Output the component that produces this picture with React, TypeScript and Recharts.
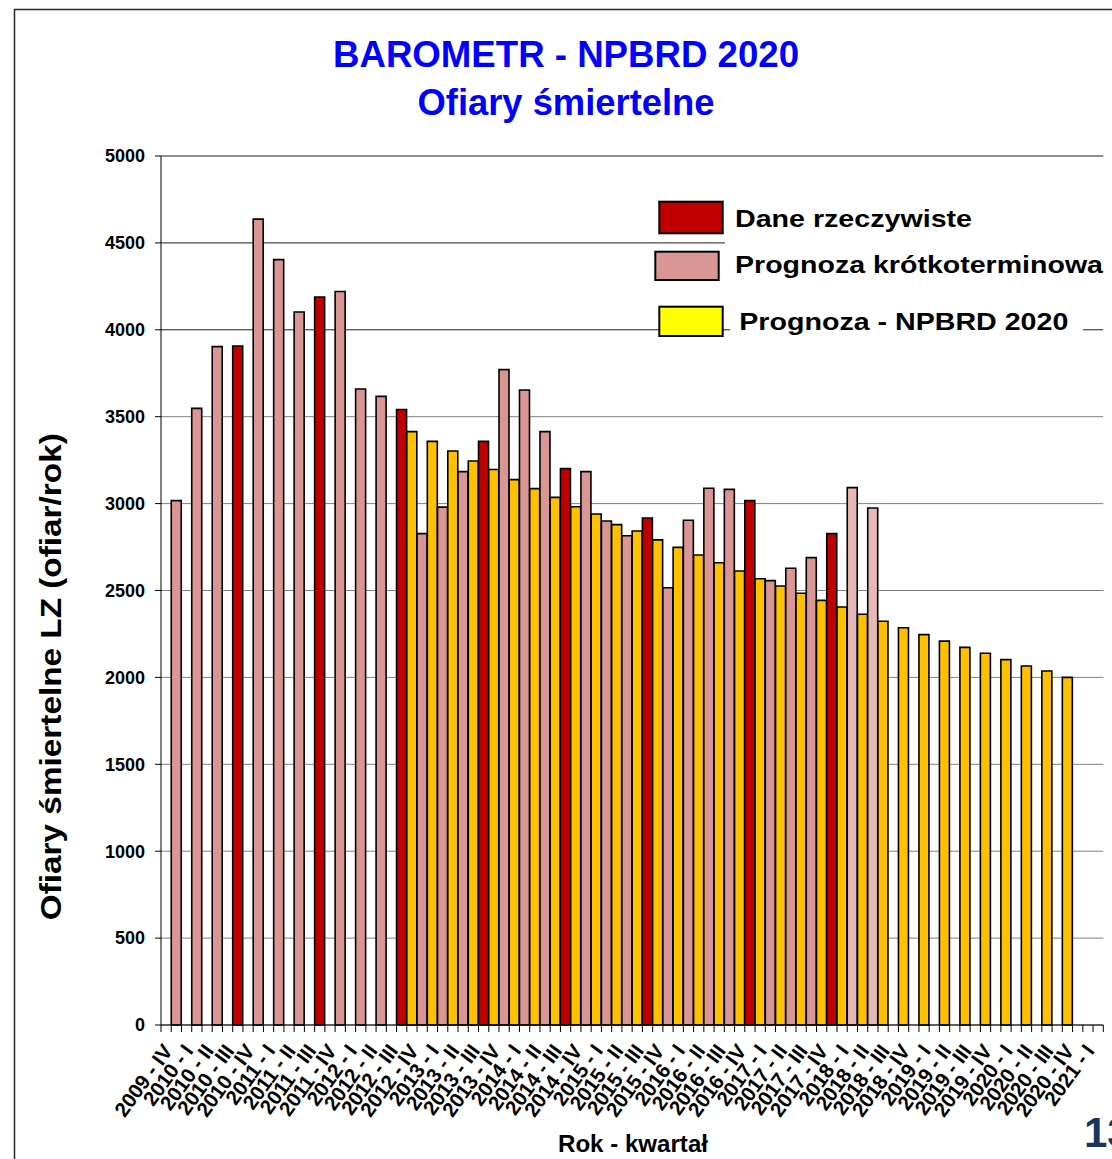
import React from 'react';
import { BarChart, Bar, Cell, XAxis, YAxis, CartesianGrid } from 'recharts';

const FONT = "'Liberation Sans', Arial, Helvetica, sans-serif";

// Quarter labels shown under the axis (one every second slot)
const quarterLabels = [
  '2009 - IV',
  '2010 - I', '2010 - II', '2010 - III', '2010 - IV',
  '2011 - I', '2011 - II', '2011 - III', '2011 - IV',
  '2012 - I', '2012 - II', '2012 - III', '2012 - IV',
  '2013 - I', '2013 - II', '2013 - III', '2013 - IV',
  '2014 - I', '2014 - II', '2014 - III', '2014 - IV',
  '2015 - I', '2015 - II', '2015 - III', '2015 - IV',
  '2016 - I', '2016 - II', '2016 - III', '2016 - IV',
  '2017 - I', '2017 - II', '2017 - III', '2017 - IV',
  '2018 - I', '2018 - II', '2018 - III', '2018 - IV',
  '2019 - I', '2019 - II', '2019 - III', '2019 - IV',
  '2020 - I', '2020 - II', '2020 - III', '2020 - IV',
  '2021 - I',
];

// Actual data and short-term forecasts (fatalities per year), drawn right after each label
const observed = [
  3017, 3548, 3903, 3907, 4637, 4404, 4102, 4189, 4220, 3659,
  3617, 3541, 2827, 2980, 3184, 3358, 3771, 3654, 3414, 3201,
  3184, 2900, 2815, 2917, 2516, 2904, 3088, 3082, 3017, 2557,
  2628, 2689, 2827, 3092, 2975,
];

// Kind of each value in `observed`
const observedKind = [
  'short', 'short', 'short', 'actual', 'short', 'short', 'short', 'actual', 'short', 'short',
  'short', 'actual', 'short', 'short', 'short', 'actual', 'short', 'short', 'short', 'actual',
  'short', 'short', 'short', 'actual', 'short', 'short', 'short', 'short', 'actual', 'short',
  'short', 'short', 'actual', 'shortLate', 'shortLate',
];

// NPBRD 2020 programme path, drawn on each label slot
const npbrdForecast: (number | null)[] = [
  null, null, null, null, null, null, null, null, null, null, null, null,
  3414, 3358, 3303, 3245, 3196, 3138, 3086, 3036, 2982, 2940,
  2879, 2842, 2791, 2748, 2704, 2660, 2612, 2568, 2526, 2484,
  2443, 2405, 2363, 2323, 2286, 2246, 2209, 2173, 2139, 2102,
  2066, 2037, 2000,
  null,
];

const yTicks = [0, 500, 1000, 1500, 2000, 2500, 3000, 3500, 4000, 4500, 5000];
const lightGridValues = [0, 500, 1000, 1500, 2000, 2500, 3000, 3500];
const darkGridValues = [4000, 4500, 5000];

const kindColor: Record<string, string> = {
  actual: '#C00000',
  short: '#DA9694',
  shortLate: '#E6B9B8',
  npbrd: '#FFC000',
};

type Row = { slot: string; label: string; value: number | null; kind: string };

const rows: Row[] = quarterLabels.flatMap((label, m) => [
  { slot: `q${m}`, label, value: npbrdForecast[m] ?? null, kind: 'npbrd' },
  { slot: `q${m}b`, label: '', value: observed[m] ?? null, kind: observedKind[m] ?? 'short' },
]);

const QuarterTick = (props: any) => {
  const { x, y, index, payload, width, visibleTicksCount } = props;
  const half =
    payload && typeof payload.offset === 'number' && payload.offset > 0
      ? payload.offset
      : width && visibleTicksCount
      ? width / visibleTicksCount / 2
      : 5.12;
  const row = rows[index];
  const ax = x + 7.5;
  const ay = y + 26;
  return (
    <g>
      <line x1={x - half} x2={x - half} y1={y} y2={y + 7} stroke="#000" strokeWidth={1} />
      {index === rows.length - 1 && (
        <line x1={x + half} x2={x + half} y1={y} y2={y + 7} stroke="#000" strokeWidth={1} />
      )}
      {row && row.label ? (
        <text
          x={ax}
          y={ay}
          transform={`rotate(-54, ${ax}, ${ay})`}
          textAnchor="end"
          fontFamily={FONT}
          fontWeight="bold"
          fontSize={20.5}
          fill="#000"
        >
          {row.label}
        </text>
      ) : null}
    </g>
  );
};

const LegendBox = ({ x, y, w, h, fill }: { x: number; y: number; w: number; h: number; fill: string }) => (
  <rect x={x} y={y} width={w} height={h} fill={fill} stroke="#000" strokeWidth={2} />
);

export default function App() {
  return (
    <div style={{ position: 'absolute', left: 0, top: 0, width: 1112, height: 1159, background: '#fff' }}>
      <BarChart
        width={1112}
        height={1159}
        data={rows}
        margin={{ top: 156, right: 8.7, bottom: 34, left: 0 }}
        barCategoryGap={0}
        barGap={0}
      >
        <CartesianGrid vertical={false} horizontalValues={lightGridValues} stroke="#808080" strokeWidth={1} />
        <CartesianGrid vertical={false} horizontalValues={darkGridValues} stroke="#1f1f1f" strokeWidth={1} />
        <XAxis
          dataKey="slot"
          type="category"
          interval={0}
          height={100}
          tickLine={false}
          tickSize={0}
          tickMargin={0}
          axisLine={{ stroke: '#000', strokeWidth: 1 }}
          tick={(p: any) => <QuarterTick {...p} />}
        />
        <YAxis
          type="number"
          domain={[0, 5000]}
          ticks={yTicks}
          interval={0}
          width={161}
          tickSize={6}
          tickMargin={10}
          axisLine={{ stroke: '#000', strokeWidth: 1 }}
          tickLine={{ stroke: '#000', strokeWidth: 1 }}
          tick={{ fontSize: 18, fontWeight: 'bold', fill: '#000', fontFamily: FONT }}
        />
        <Bar dataKey="value" stroke="#000" strokeWidth={1.6} isAnimationActive={false}>
          {rows.map((r) => (
            <Cell key={r.slot} fill={kindColor[r.kind]} />
          ))}
        </Bar>
      </BarChart>

      <svg
        width={1112}
        height={1159}
        style={{ position: 'absolute', left: 0, top: 0, pointerEvents: 'none' }}
      >
        {/* frame */}
        <path d="M14.5 1159 V9.5 H1112" fill="none" stroke="#262626" strokeWidth={1.5} />

        {/* title */}
        <text x={566} y={66.7} textAnchor="middle" fontFamily={FONT} fontWeight="bold" fontSize={37} fill="#0000FF" textLength={466} lengthAdjust="spacingAndGlyphs">
          BAROMETR - NPBRD 2020
        </text>
        <text x={566} y={115} textAnchor="middle" fontFamily={FONT} fontWeight="bold" fontSize={37} fill="#0000FF" textLength={297} lengthAdjust="spacingAndGlyphs">
          Ofiary śmiertelne
        </text>

        {/* axis titles */}
        <text x={61} y={676.7} transform="rotate(-90, 61, 676.7)" textAnchor="middle" fontFamily={FONT} fontWeight="bold" fontSize={30} fill="#000" textLength={487} lengthAdjust="spacingAndGlyphs">
          Ofiary śmiertelne LZ (ofiar/rok)
        </text>
        <text x={633} y={1152} textAnchor="middle" fontFamily={FONT} fontWeight="bold" fontSize={24} fill="#000" textLength={150} lengthAdjust="spacingAndGlyphs">
          Rok - kwartał
        </text>

        {/* legend */}
        <rect x={725} y={198} width={400} height={50} fill="#fff" />
        <rect x={730} y={300} width={353} height={42} fill="#fff" />
        <LegendBox x={659.3} y={201.7} w={63.4} h={31.6} fill={kindColor.actual} />
        <text x={735} y={226.7} fontFamily={FONT} fontWeight="bold" fontSize={24} fill="#000" textLength={237} lengthAdjust="spacingAndGlyphs">
          Dane rzeczywiste
        </text>
        <LegendBox x={655.3} y={251.7} w={63.4} h={28.3} fill={kindColor.short} />
        <text x={735} y={272.7} fontFamily={FONT} fontWeight="bold" fontSize={24} fill="#000" textLength={368} lengthAdjust="spacingAndGlyphs">
          Prognoza krótkoterminowa
        </text>
        <LegendBox x={659.3} y={306.7} w={63.4} h={29.3} fill="#FFFF00" />
        <text x={739.3} y={330} fontFamily={FONT} fontWeight="bold" fontSize={24} fill="#000" textLength={329} lengthAdjust="spacingAndGlyphs">
          Prognoza - NPBRD 2020
        </text>

        {/* page number */}
        <text x={1084} y={1147} fontFamily={FONT} fontWeight="bold" fontSize={42} fill="#17365D">
          13
        </text>
      </svg>
    </div>
  );
}
